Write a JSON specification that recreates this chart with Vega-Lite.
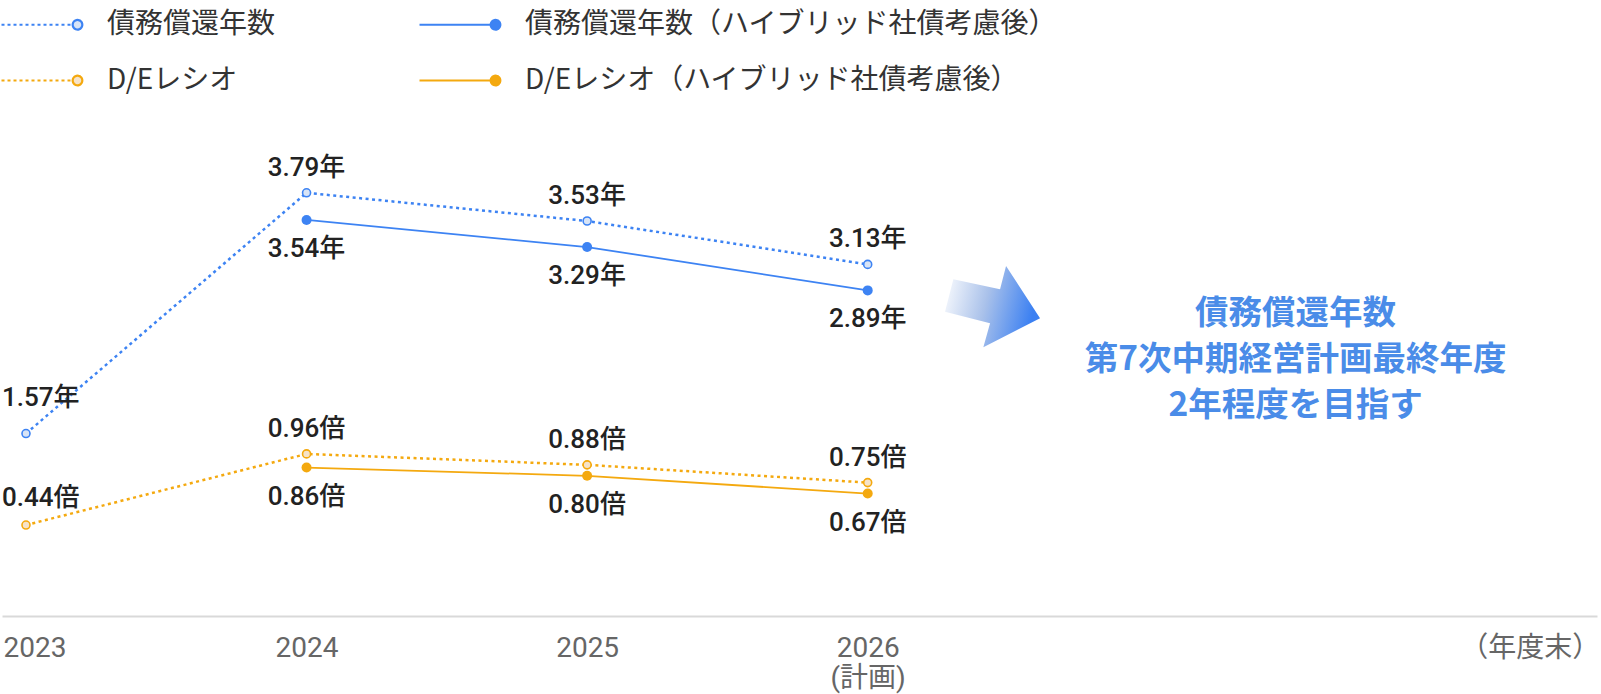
{
  "$schema": "https://vega.github.io/schema/vega-lite/v6.json",
  "autosize": {"type": "none"},
  "padding": {"left": 2, "top": 0, "right": 4, "bottom": 78},
  "width": 1595,
  "height": 616,
  "background": "#ffffff",
  "config": {"view": {"stroke": null}, "font": "Noto Sans CJK JP"},
  "data": {"values": [
    {"year": 2023, "metric": "years", "type": "base", "series": "債務償還年数", "value": 1.57},
    {"year": 2024, "metric": "years", "type": "base", "series": "債務償還年数", "value": 3.79},
    {"year": 2025, "metric": "years", "type": "base", "series": "債務償還年数", "value": 3.53},
    {"year": 2026, "metric": "years", "type": "base", "series": "債務償還年数", "value": 3.13},
    {"year": 2024, "metric": "years", "type": "hybrid", "series": "債務償還年数（ハイブリッド社債考慮後）", "value": 3.54},
    {"year": 2025, "metric": "years", "type": "hybrid", "series": "債務償還年数（ハイブリッド社債考慮後）", "value": 3.29},
    {"year": 2026, "metric": "years", "type": "hybrid", "series": "債務償還年数（ハイブリッド社債考慮後）", "value": 2.89},
    {"year": 2023, "metric": "de", "type": "base", "series": "D/Eレシオ", "value": 0.44},
    {"year": 2024, "metric": "de", "type": "base", "series": "D/Eレシオ", "value": 0.96},
    {"year": 2025, "metric": "de", "type": "base", "series": "D/Eレシオ", "value": 0.88},
    {"year": 2026, "metric": "de", "type": "base", "series": "D/Eレシオ", "value": 0.75},
    {"year": 2024, "metric": "de", "type": "hybrid", "series": "D/Eレシオ（ハイブリッド社債考慮後）", "value": 0.86},
    {"year": 2025, "metric": "de", "type": "hybrid", "series": "D/Eレシオ（ハイブリッド社債考慮後）", "value": 0.80},
    {"year": 2026, "metric": "de", "type": "hybrid", "series": "D/Eレシオ（ハイブリッド社債考慮後）", "value": 0.67}
  ]},
  "transform": [
    {"calculate": "format(datum.value, '.2f') + (datum.metric === 'years' ? '年' : '倍')", "as": "label"}
  ],
  "layer": [
    {
      "transform": [{"filter": "datum.metric === 'years'"}],
      "encoding": {
        "x": {"field": "year", "type": "quantitative", "scale": {"domain": [2022.9145, 2028.5994], "nice": false, "zero": false},
          "axis": {"values": [2023, 2024, 2025, 2026, 2028.36], "format": "d",
            "labelExpr": "datum.value == 2026 ? ['2026', '(計画)'] : datum.value > 2027 ? '（年度末）' : datum.label",
            "ticks": false, "grid": false, "domainColor": "#d9d9d9", "domainWidth": 2,
            "labelFont": "Roboto, Noto Sans CJK JP", "labelFontSize": 28, "labelColor": "#666666", "labelPadding": 18,
            "labelFlush": 30, "labelFlushOffset": 23, "title": null}},
        "y": {"field": "value", "type": "quantitative", "scale": {"domain": [-0.1125, 5.568], "nice": false, "zero": false}, "axis": null}
      },
      "layer": [
        {
          "transform": [{"filter": "datum.type === 'base'"}],
          "mark": {"type": "line", "strokeWidth": 2.5, "strokeDash": [3, 3.5]},
          "encoding": {
            "color": {"field": "series", "type": "nominal",
              "scale": {"domain": ["債務償還年数", "債務償還年数（ハイブリッド社債考慮後）", "D/Eレシオ", "D/Eレシオ（ハイブリッド社債考慮後）"],
                        "range": ["#3d83f3", "#3d83f3", "#f4a90f", "#f4a90f"]},
              "legend": {
                "title": null, "orient": "none", "legendX": -2, "legendY": -17, "direction": "horizontal", "columns": 2, "columnPadding": 139, "rowPadding": 0,
                "symbolSize": 6400, "symbolStrokeWidth": 2.2, "labelFont": "Noto Sans CJK JP", "labelFontSize": 28, "labelColor": "#333333",
                "labelOffset": 24, "labelLimit": 1000, "padding": 0,
                "encode": {"symbols": {"update": {
                  "shape": [
                    {"test": "indexof(datum.value, '（') < 0", "value": "M-1,0L-0.925,0M-0.85,0L-0.775,0M-0.7,0L-0.625,0M-0.55,0L-0.475,0M-0.4,0L-0.325,0M-0.25,0L-0.175,0M-0.1,0L-0.025,0M0.05,0L0.125,0M0.2,0L0.275,0M0.35,0L0.425,0M0.5,0L0.575,0M0.65,0L0.725,0M1.02,0A0.12,0.12,0,1,1,0.78,0A0.12,0.12,0,1,1,1.02,0Z"},
                    {"value": "M-1,0L0.78,0M1.02,0A0.12,0.12,0,1,1,0.78,0A0.12,0.12,0,1,1,1.02,0Z"}
                  ],
                  "fill": [
                    {"test": "datum.value === '債務償還年数'", "value": "#d8e4f6"},
                    {"test": "datum.value === 'D/Eレシオ'", "value": "#f6e3c9"},
                    {"test": "indexof(datum.value, '債務') === 0", "value": "#3d83f3"},
                    {"value": "#f4a90f"}
                  ],
                  "stroke": [
                    {"test": "indexof(datum.value, '債務') === 0", "value": "#3d83f3"},
                    {"value": "#f4a90f"}
                  ],
                  "strokeDash": {"value": [1, 0]},
                  "opacity": {"value": 1}
                }}}
              }}
          }
        },
        {
          "transform": [{"filter": "datum.type === 'hybrid'"}],
          "mark": {"type": "line", "strokeWidth": 1.8},
          "encoding": {
            "color": {"field": "series", "type": "nominal",
              "scale": {"domain": ["債務償還年数", "債務償還年数（ハイブリッド社債考慮後）", "D/Eレシオ", "D/Eレシオ（ハイブリッド社債考慮後）"],
                        "range": ["#3d83f3", "#3d83f3", "#f4a90f", "#f4a90f"]}}
          }
        },
        {
          "transform": [{"filter": "datum.type === 'base'"}],
          "mark": {"type": "point", "filled": true, "size": 64, "strokeWidth": 1.6, "opacity": 1, "fill": "#d8e4f6", "stroke": "#3d83f3"},
          "encoding": {}
        },
        {
          "transform": [{"filter": "datum.type === 'hybrid'"}],
          "mark": {"type": "point", "filled": true, "size": 100, "opacity": 1, "fill": "#3d83f3", "strokeWidth": 0},
          "encoding": {}
        },
        {
          "transform": [{"filter": "datum.type === 'base' && datum.year > 2023"}],
          "mark": {"type": "text", "font": "Roboto, Noto Sans CJK JP", "fontSize": 26, "fontWeight": 500, "fill": "#222222", "align": "center", "baseline": "alphabetic", "dy": -17},
          "encoding": {"text": {"field": "label"}}
        },
        {
          "transform": [{"filter": "datum.type === 'base' && datum.year === 2023"}],
          "mark": {"type": "text", "font": "Roboto, Noto Sans CJK JP", "fontSize": 26, "fontWeight": 500, "fill": "#222222", "align": "left", "baseline": "alphabetic", "dx": -24, "dy": -28},
          "encoding": {"text": {"field": "label"}}
        },
        {
          "transform": [{"filter": "datum.type === 'hybrid'"}],
          "mark": {"type": "text", "font": "Roboto, Noto Sans CJK JP", "fontSize": 26, "fontWeight": 500, "fill": "#222222", "align": "center", "baseline": "alphabetic", "dy": 37},
          "encoding": {"text": {"field": "label"}}
        }
      ]
    },
    {
      "transform": [{"filter": "datum.metric === 'de'"}],
      "encoding": {
        "x": {"field": "year", "type": "quantitative", "scale": {"domain": [2022.9145, 2028.5994], "nice": false, "zero": false},
          "axis": {"values": [2023, 2024, 2025, 2026, 2028.36], "format": "d",
            "labelExpr": "datum.value == 2026 ? ['2026', '(計画)'] : datum.value > 2027 ? '（年度末）' : datum.label",
            "ticks": false, "grid": false, "domainColor": "#d9d9d9", "domainWidth": 2,
            "labelFont": "Roboto, Noto Sans CJK JP", "labelFontSize": 28, "labelColor": "#666666", "labelPadding": 18,
            "labelFlush": 30, "labelFlushOffset": 23, "title": null}},
        "y": {"field": "value", "type": "quantitative", "scale": {"domain": [-0.225, 4.278], "nice": false, "zero": false}, "axis": null}
      },
      "layer": [
        {
          "transform": [{"filter": "datum.type === 'base'"}],
          "mark": {"type": "line", "strokeWidth": 2.5, "strokeDash": [3, 3.5]},
          "encoding": {
            "color": {"field": "series", "type": "nominal",
              "scale": {"domain": ["債務償還年数", "債務償還年数（ハイブリッド社債考慮後）", "D/Eレシオ", "D/Eレシオ（ハイブリッド社債考慮後）"],
                        "range": ["#3d83f3", "#3d83f3", "#f4a90f", "#f4a90f"]}}
          }
        },
        {
          "transform": [{"filter": "datum.type === 'hybrid'"}],
          "mark": {"type": "line", "strokeWidth": 1.8},
          "encoding": {
            "color": {"field": "series", "type": "nominal",
              "scale": {"domain": ["債務償還年数", "債務償還年数（ハイブリッド社債考慮後）", "D/Eレシオ", "D/Eレシオ（ハイブリッド社債考慮後）"],
                        "range": ["#3d83f3", "#3d83f3", "#f4a90f", "#f4a90f"]}}
          }
        },
        {
          "transform": [{"filter": "datum.type === 'base'"}],
          "mark": {"type": "point", "filled": true, "size": 64, "strokeWidth": 1.6, "opacity": 1, "fill": "#f6e3c9", "stroke": "#f4a90f"},
          "encoding": {}
        },
        {
          "transform": [{"filter": "datum.type === 'hybrid'"}],
          "mark": {"type": "point", "filled": true, "size": 100, "opacity": 1, "fill": "#f4a90f", "strokeWidth": 0},
          "encoding": {}
        },
        {
          "transform": [{"filter": "datum.type === 'base' && datum.year > 2023"}],
          "mark": {"type": "text", "font": "Roboto, Noto Sans CJK JP", "fontSize": 26, "fontWeight": 500, "fill": "#222222", "align": "center", "baseline": "alphabetic", "dy": -17},
          "encoding": {"text": {"field": "label"}}
        },
        {
          "transform": [{"filter": "datum.type === 'base' && datum.year === 2023"}],
          "mark": {"type": "text", "font": "Roboto, Noto Sans CJK JP", "fontSize": 26, "fontWeight": 500, "fill": "#222222", "align": "left", "baseline": "alphabetic", "dx": -24, "dy": -19},
          "encoding": {"text": {"field": "label"}}
        },
        {
          "transform": [{"filter": "datum.type === 'hybrid'"}],
          "mark": {"type": "text", "font": "Roboto, Noto Sans CJK JP", "fontSize": 26, "fontWeight": 500, "fill": "#222222", "align": "center", "baseline": "alphabetic", "dy": 37},
          "encoding": {"text": {"field": "label"}}
        }
      ]
    },
    {
      "data": {"values": [{"note": "target"}]},
      "layer": [
        {
          "mark": {"type": "point", "filled": true, "opacity": 1, "size": 10000, "strokeWidth": 0,
            "shape": "M-0.95,0.104L-0.784,-0.544L0.15,-0.344L0.27,-0.81L0.95,0.236L-0.184,0.816L-0.05,0.336Z",
            "fill": {"gradient": "linear", "x1": 0, "y1": 0, "x2": 1, "y2": 0.2,
              "stops": [{"offset": 0, "color": "#ffffff"}, {"offset": 0.5, "color": "#a9c1ea"}, {"offset": 1, "color": "#3b80f2"}]}},
          "encoding": {
            "x": {"datum": 2026.445, "type": "quantitative", "scale": {"domain": [2022.9145, 2028.5994], "nice": false, "zero": false},
              "axis": {"values": [2023, 2024, 2025, 2026, 2028.36], "format": "d",
                "labelExpr": "datum.value == 2026 ? ['2026', '(計画)'] : datum.value > 2027 ? '（年度末）' : datum.label",
                "ticks": false, "grid": false, "domainColor": "#d9d9d9", "domainWidth": 2,
                "labelFont": "Roboto, Noto Sans CJK JP", "labelFontSize": 28, "labelColor": "#666666", "labelPadding": 18,
                "labelFlush": 30, "labelFlushOffset": 23, "title": null}},
            "y": {"datum": 2.742, "type": "quantitative", "scale": {"domain": [-0.1125, 5.568], "nice": false, "zero": false}, "axis": null}
          }
        },
        {
          "mark": {"type": "text", "font": "Noto Sans CJK JP", "fontSize": 33.5, "fontWeight": "bold", "fill": "#4a8ce8",
            "align": "center", "baseline": "middle", "lineHeight": 46,
            "text": ["債務償還年数", "第7次中期経営計画最終年度", "2年程度を目指す"]},
          "encoding": {
            "x": {"datum": 2027.525, "type": "quantitative", "scale": {"domain": [2022.9145, 2028.5994], "nice": false, "zero": false},
              "axis": {"values": [2023, 2024, 2025, 2026, 2028.36], "format": "d",
                "labelExpr": "datum.value == 2026 ? ['2026', '(計画)'] : datum.value > 2027 ? '（年度末）' : datum.label",
                "ticks": false, "grid": false, "domainColor": "#d9d9d9", "domainWidth": 2,
                "labelFont": "Roboto, Noto Sans CJK JP", "labelFontSize": 28, "labelColor": "#666666", "labelPadding": 18,
                "labelFlush": 30, "labelFlushOffset": 23, "title": null}},
            "y": {"datum": 2.675, "type": "quantitative", "scale": {"domain": [-0.1125, 5.568], "nice": false, "zero": false}, "axis": null}
          }
        }
      ]
    }
  ],
  "resolve": {"scale": {"y": "independent"}}
}
